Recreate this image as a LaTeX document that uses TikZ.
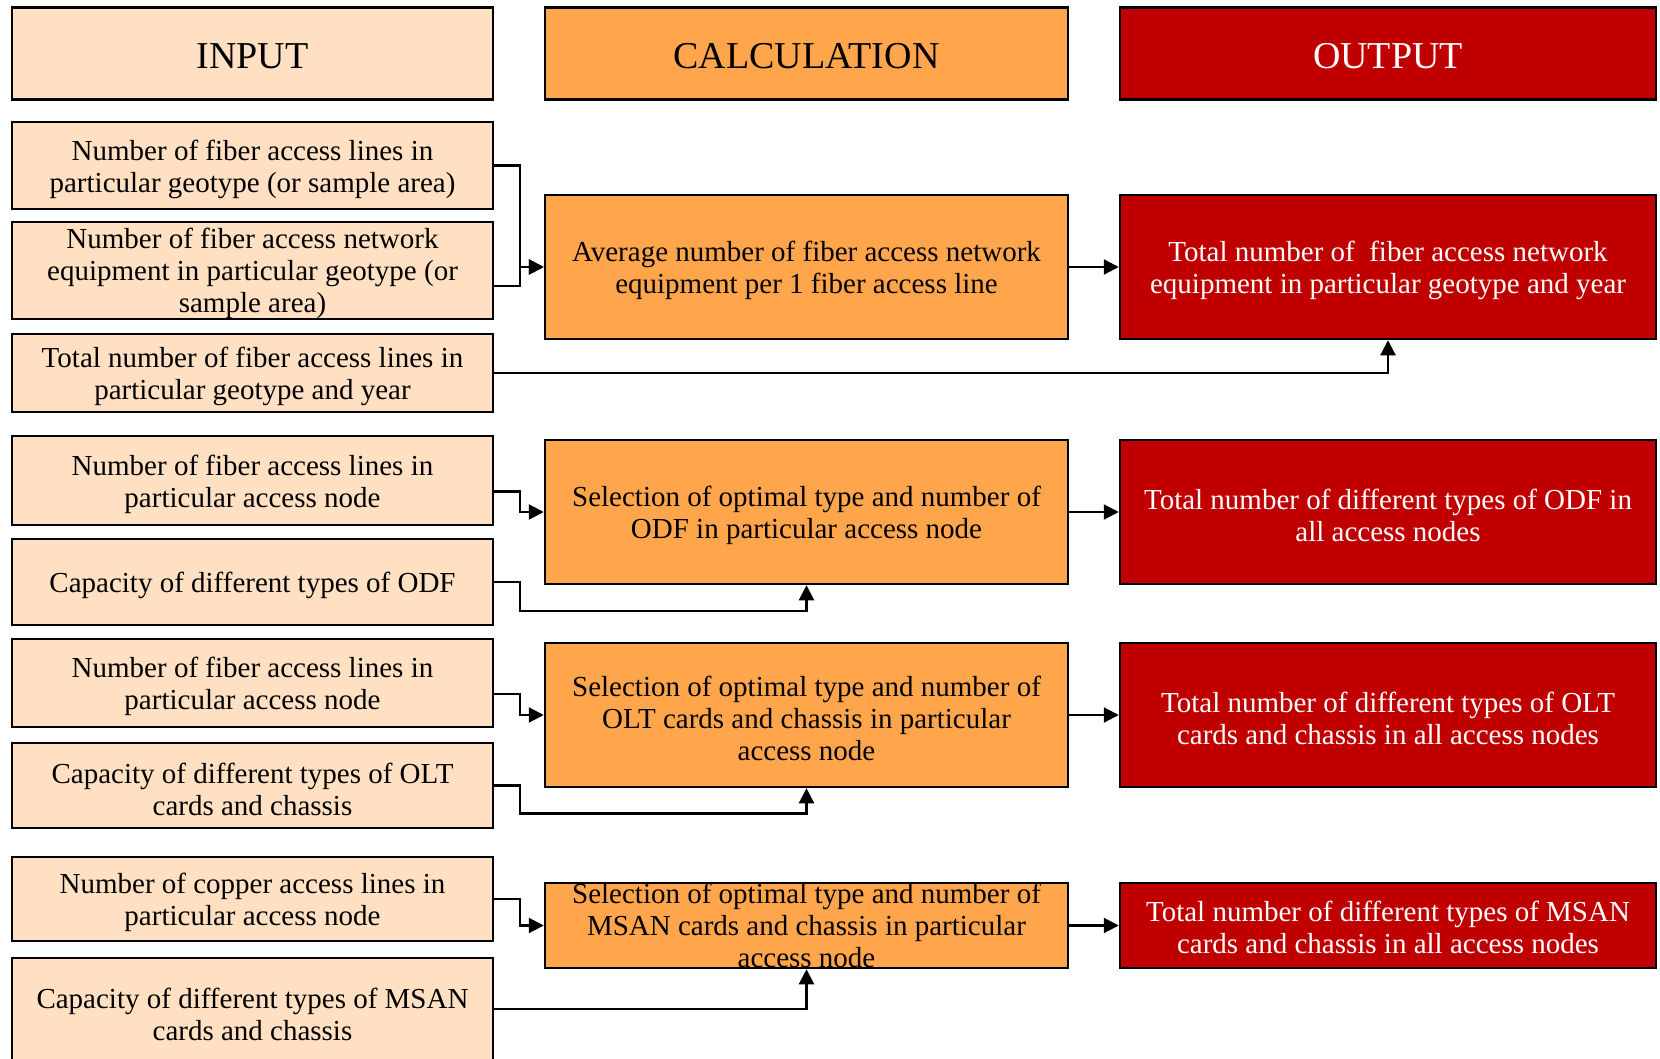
\documentclass[tikz,border=0pt]{standalone}
\usepackage{fontspec}
\setmainfont{Liberation Serif}
\usetikzlibrary{arrows.meta}

\definecolor{inputfill}{RGB}{255,224,194}
\definecolor{calcfill}{RGB}{255,166,77}
\definecolor{outfill}{RGB}{192,0,0}

% invisible strut on a first line, to sit the text a little lower in its box
\newcommand\padtop[1][28pt]{\rule{0pt}{#1}}

\begin{document}
\begin{tikzpicture}[x=1pt,y=-1pt,
  box/.style={draw=black, line width=2.5pt, rectangle, inner sep=0pt, align=center,
              font=\fontsize{29}{32}\selectfont},
  inbox/.style={box, fill=inputfill, minimum width=481},
  calcbox/.style={box, fill=calcfill, minimum width=523},
  outbox/.style={box, fill=outfill, text=white, minimum width=536},
  header/.style={font=\fontsize{38}{44}\selectfont, minimum height=92},
  conn/.style={draw=black, line width=2.2pt, -{Triangle[length=15pt,width=15pt]}}
]
\useasboundingbox (0,0) rectangle (1660,1059);

% column headers
\node[inbox,header]   (hin)   at (252.5,53.5) {\padtop[30pt]INPUT};
\node[calcbox,header] (hcalc) at (806.5,53.5) {\padtop[30pt]CALCULATION};
\node[outbox,header]  (hout)  at (1388,53.5)  {\padtop[30pt]OUTPUT};

% input column
\node[inbox, minimum height=87] (i1) at (252.5,165.5)
  {\padtop Number of fiber access lines in\\particular geotype (or sample area)};
\node[inbox, minimum height=97] (i2) at (252.5,270.5)
  {\padtop[26pt]Number of fiber access network\\equipment in particular geotype (or\\sample area)};
\node[inbox, minimum height=78] (i3) at (252.5,373)
  {\padtop Total number of fiber access lines in\\particular geotype and year};
\node[inbox, minimum height=89] (i4) at (252.5,480.5)
  {\padtop Number of fiber access lines in\\particular access node};
\node[inbox, minimum height=86] (i5) at (252.5,582)
  {\padtop Capacity of different types of ODF};
\node[inbox, minimum height=88] (i6) at (252.5,683)
  {\padtop Number of fiber access lines in\\particular access node};
\node[inbox, minimum height=85] (i7) at (252.5,785.5)
  {\padtop Capacity of different types of OLT\\cards and chassis};
\node[inbox, minimum height=84] (i8) at (252.5,899)
  {\padtop Number of copper access lines in\\particular access node};
\node[inbox, minimum height=106] (i9) at (252.5,1011)
  {\padtop Capacity of different types of MSAN\\cards and chassis};

% calculation column
\node[calcbox, minimum height=144] (c1) at (806.5,267)
  {\padtop Average number of fiber access network\\equipment per 1 fiber access line};
\node[calcbox, minimum height=144] (c2) at (806.5,512)
  {\padtop Selection of optimal type and number of\\ODF in particular access node};
\node[calcbox, minimum height=144] (c3) at (806.5,715)
  {\padtop Selection of optimal type and number of\\OLT cards and chassis in particular\\access node};
\node[calcbox, minimum height=85,
      label={[align=center, font=\fontsize{29}{32}\selectfont]center:Selection of optimal type and number of\\MSAN cards and chassis in particular\\access node}]
  (c4) at (806.5,925.5) {};

% output column
\node[outbox, minimum height=144] (o1) at (1388,267)
  {\padtop Total number of \ fiber access network\\equipment in particular geotype and year};
\node[outbox, minimum height=144] (o2) at (1388,512)
  {\padtop Total number of different types of ODF in\\all access nodes};
\node[outbox, minimum height=144] (o3) at (1388,715)
  {\padtop Total number of different types of OLT\\cards and chassis in all access nodes};
\node[outbox, minimum height=85] (o4) at (1388,925.5)
  {\padtop[25pt]Total number of different types of MSAN\\cards and chassis in all access nodes};

% fiber equipment block
\draw[conn] (i1.east) -- ++(26,0) |- (c1.west);
\draw[conn] ([yshift=-15.5pt]i2.east) -- ++(26,0) |- (c1.west);
\draw[conn] (c1.east) -- (o1.west);
\draw[conn] (i3.east) -| (o1.south);

% ODF block
\draw[conn] ([yshift=-11pt]i4.east) -- ++(26,0) |- (c2.west);
\draw[conn] (i5.east) -- ++(26,0) -- ++(0,29) -| (c2.south);
\draw[conn] (c2.east) -- (o2.west);

% OLT block
\draw[conn] ([yshift=-11pt]i6.east) -- ++(26,0) |- (c3.west);
\draw[conn] (i7.east) -- ++(26,0) -- ++(0,28) -| (c3.south);
\draw[conn] (c3.east) -- (o3.west);

% MSAN block
\draw[conn] (i8.east) -- ++(26,0) |- (c4.west);
\draw[conn] ([yshift=2pt]i9.east) -| (c4.south);
\draw[conn] (c4.east) -- (o4.west);
\end{tikzpicture}
\end{document}
